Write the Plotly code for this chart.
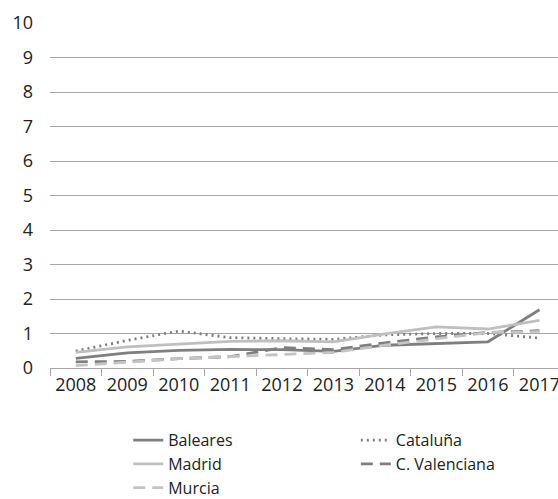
import plotly.graph_objects as go

years = ["2008", "2009", "2010", "2011", "2012", "2013", "2014", "2015", "2016", "2017"]
baleares = [0.28, 0.44, 0.51, 0.54, 0.53, 0.48, 0.66, 0.71, 0.76, 1.69]
cataluna = [0.49, 0.80, 1.07, 0.88, 0.85, 0.83, 0.96, 1.00, 1.00, 0.87]
madrid = [0.45, 0.61, 0.69, 0.77, 0.79, 0.76, 0.99, 1.19, 1.13, 1.38]
valenciana = [0.18, 0.19, 0.27, 0.33, 0.59, 0.53, 0.73, 0.90, 1.03, 1.08]
murcia = [0.07, 0.17, 0.27, 0.33, 0.39, 0.45, 0.66, 0.85, 1.03, 1.05]
y_ticks = list(range(0, 11))

FONT = "Open Sans"
series = [
    ("Baleares", baleares, "#7f7f7f", "solid", "legend"),
    ("Cataluña", cataluna, "#7f7f7f", "2px,4px", "legend2"),
    ("Madrid", madrid, "#bfbfbf", "solid", "legend"),
    ("C. Valenciana", valenciana, "#7f7f7f", "12px,7px", "legend2"),
    ("Murcia", murcia, "#c4c4c4", "12px,7px", "legend"),
]

fig = go.Figure()
for name, vals, color, dash, leg in series:
    fig.add_trace(go.Scatter(
        x=years, y=vals, name=name, mode="lines", legend=leg,
        line=dict(color=color, width=2.8, dash=dash),
    ))

leg_common = dict(
    orientation="v", yanchor="top", xanchor="left",
    font=dict(family=FONT, size=16, color="#222222"),
    tracegroupgap=0, itemwidth=30, bgcolor="rgba(0,0,0,0)",
)

fig.update_layout(
    width=558, height=499,
    margin=dict(l=50, r=0, t=23, b=131, autoexpand=False),
    paper_bgcolor="white", plot_bgcolor="white",
    font=dict(family=FONT, size=18, color="#222222"),
    showlegend=True,
    legend=dict(x=0.154, y=-0.16, **leg_common),
    legend2=dict(x=0.602, y=-0.16, **leg_common),
    xaxis=dict(
        type="category", range=[-0.5, 9.36],
        showgrid=False, zeroline=False,
        showline=True, linecolor="#a6a6a6", linewidth=1.3,
        ticks="outside", ticklen=7, tickcolor="#a6a6a6", tickwidth=1.3,
        tickson="boundaries",
        tickfont=dict(family=FONT, size=18, color="#222222"),
    ),
    yaxis=dict(
        range=[0, 10], tickvals=y_ticks,
        showgrid=True, gridcolor="#a6a6a6", gridwidth=1.3,
        zeroline=False, showline=False,
        ticks="", ticklabelstandoff=16,
        tickfont=dict(family=FONT, size=18, color="#222222"),
    ),
)

fig.write_html("out.html")
